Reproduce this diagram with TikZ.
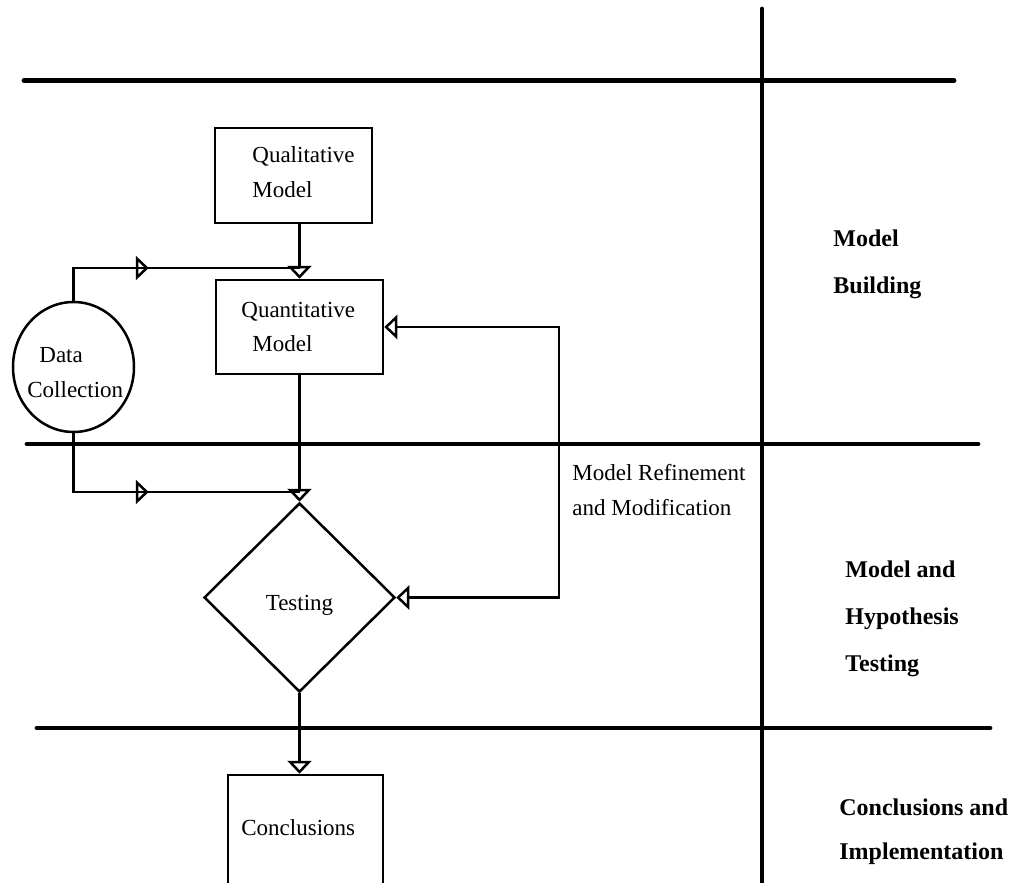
\documentclass[tikz,border=0pt]{standalone}
\usepackage{fontspec}
\setmainfont{Liberation Serif}
\usetikzlibrary{arrows.meta,shapes.geometric,decorations.markings}
\begin{document}
\begin{tikzpicture}[x=0.5pt,y=-0.5pt,
  conn/.style={line width=1.25pt},
  tipopen/.tip={Triangle[open,length=6.5pt,width=12pt,line width=1.25pt]},
  arr/.style={conn,-{tipopen}},
  arrboth/.style={conn,{tipopen}-{tipopen}},
  sep/.style={line width=2.4pt,line cap=round},
  boxshape/.style={draw,line width=1.25pt,rectangle,inner sep=0pt},
  txt/.style={inner sep=0pt,anchor=base west,align=left,font=\fontsize{11.5pt}{17.5pt}\selectfont},
  side/.style={inner sep=0pt,anchor=base west,align=left,font=\bfseries\fontsize{12pt}{23.5pt}\selectfont},
  midarrow/.style={postaction={decorate,decoration={markings,mark=at position #1 with {\arrow{tipopen}}}}}
]
\useasboundingbox (0,0) rectangle (1017,883);
% separators
\draw[sep] (24,80.5) -- (954,80.5);
\draw[sep] (27,444) -- (978,444);
\draw[sep] (37,728) -- (990,728);
\draw[sep] (762,9) -- (762,895);
% nodes
\node[boxshape,minimum width=78.5pt,minimum height=47.5pt] (qual) at (293.5,175.5) {};
\node[boxshape,minimum width=83.5pt,minimum height=47pt] (quant) at (299.5,327) {};
\node[draw,line width=1.25pt,ellipse,inner sep=0pt,minimum width=60.5pt,minimum height=65pt] (dc) at (73.5,367) {};
\node[draw,line width=1.25pt,diamond,inner sep=0pt,minimum width=95.5pt,minimum height=94.5pt] (test) at (299.5,597.5) {};
\node[boxshape,minimum width=77.5pt,minimum height=60pt] (conc) at (305.5,835) {};
% texts (base anchor of a multi-line node = baseline of its last line)
\node[txt] (qualt) at (252,198) {Qualitative\\Model};
\node[txt] (quant1) at (241,317) {Quantitative};
\node[txt] (quant2) at (252,351) {Model};
\node[txt] (dc1) at (39,362) {Data};
\node[txt] (dc2) at (27,397) {Collection};
\node[txt,anchor=base] (testt) at (299.5,610) {Testing};
\node[txt] (conct) at (241,835) {Conclusions};
\node[txt] (refine) at (572,515) {Model Refinement\\and Modification};
\node[side] (lab1) at (833,293) {Model\\Building};
\node[side] (lab2) at (845,671) {Model and\\Hypothesis\\Testing};
\node[side,font=\bfseries\fontsize{12pt}{22pt}\selectfont] (lab3) at (839,859) {Conclusions and\\Implementation};
% junction coordinates
\coordinate (j1) at (299.5,268);
\coordinate (j2) at (299.5,492);
\coordinate (fb) at (559,460);
% connectors
\draw[arr] (qual.south -| quant.north) -- (quant.north);
\draw[arr] (quant.south) -- (test.north);
\draw[arr] (test.south) -- (test.south |- conc.north);
\draw[conn,midarrow=54pt] (dc.north) |- (j1);
\draw[conn,midarrow=67pt] (dc.south) |- (j2);
\draw[arrboth] (quant.east) -| (fb) |- (test.east);
\end{tikzpicture}
\end{document}
